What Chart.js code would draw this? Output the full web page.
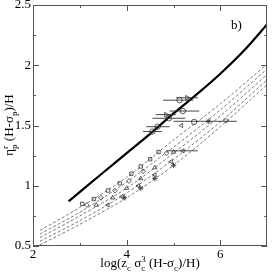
<!DOCTYPE html>
<html><head><meta charset="utf-8">
<script src="https://cdn.jsdelivr.net/npm/chart.js@4"></script>
<style>html,body{margin:0;padding:0;background:#fff}canvas{display:block}</style>
</head><body>
<canvas id="c" width="272" height="273"></canvas>
<script>
// ---- data ----
const xTickLabels = [2, 4, 6];
const xMinorTicks = [3, 5];
const yTickLabels = [0.5, 1, 1.5, 2, 2.5];
const yMinorTicks = [0.75, 1.25, 1.75, 2.25];

const solidX = [2.76, 3.5, 4.0, 4.5, 5.0, 5.5, 6.0, 6.5, 7.0];
const solidY = [0.87, 1.11, 1.27, 1.43, 1.60, 1.76, 1.93, 2.12, 2.34];

const dashX = [2.15, 3, 4, 5, 6, 7];
const dash1 = [0.63, 0.82, 1.07, 1.38, 1.68, 2.01];
const dash2 = [0.60, 0.78, 1.03, 1.32, 1.63, 1.97];
const dash3 = [0.57, 0.75, 0.98, 1.27, 1.58, 1.925];
const dash4 = [0.54, 0.71, 0.94, 1.22, 1.53, 1.88];
const dash5 = [0.51, 0.68, 0.90, 1.17, 1.49, 1.84];

const circX = [5.13, 5.20, 4.90, 4.66, 4.55, 5.44];
const circY = [1.71, 1.62, 1.56, 1.49, 1.45, 1.53];
const triRX = [5.29, 4.84];
const triRY = [1.73, 1.59];
const sqX = [3.05, 3.3, 3.6, 3.85, 4.1, 4.3, 4.5, 4.68];
const sqY = [0.85, 0.89, 0.96, 1.02, 1.10, 1.16, 1.22, 1.28];
const diaX = [3.15, 3.45, 3.75, 4.05, 4.35, 4.85, 6.12];
const diaY = [0.84, 0.90, 0.96, 1.04, 1.12, 1.27, 1.54];
const triUX = [3.35, 3.7, 4.0, 4.3, 4.6, 5.0];
const triUY = [0.84, 0.90, 0.98, 1.06, 1.15, 1.28];
const triLX = [3.6, 3.9, 4.25, 4.6, 4.95, 5.2, 5.17];
const triLY = [0.84, 0.91, 1.00, 1.09, 1.20, 1.29, 1.50];
const starX = [3.95, 4.3, 4.6, 5.0, 5.75];
const starY = [0.90, 0.98, 1.06, 1.17, 1.535];

const errY  = [1.71, 1.73, 1.62, 1.59, 1.56, 1.49, 1.45, 1.535, 1.29];
const errLo = [4.78, 5.05, 4.92, 4.62, 4.55, 4.42, 4.35, 5.00, 4.85];
const errHi = [5.42, 5.52, 5.55, 5.05, 5.25, 4.92, 4.75, 6.35, 5.52];

// ---- build ----
const pts = (xs, ys) => xs.map((x, i) => ({x, y: ys[i]}));
const SERIF = "'Liberation Serif','Times New Roman',serif";

const datasets = [];
datasets.push({type:'line', data: pts(solidX, solidY), borderColor:'#000', borderWidth:2.2, pointRadius:0, tension:0.3, order:5});
[dash1, dash2, dash3, dash4, dash5].forEach(d => datasets.push({
  type:'line', data: pts(dashX, d), borderColor:'#444', borderWidth:0.7, borderDash:[3,2],
  pointRadius:0, tension:0.3, order:6}));
errY.forEach((y, i) => datasets.push({
  type:'line', data:[{x:errLo[i], y},{x:errHi[i], y}], borderColor:'#333', borderWidth:0.9, pointRadius:0, order:4}));
const mk = (xs, ys, style, rot, r) => ({
  type:'scatter', data: pts(xs, ys), pointStyle: style, rotation: rot || 0, pointRadius: r || 2.3,
  borderColor:'#333', backgroundColor:'rgba(255,255,255,0)', pointBorderWidth:0.8, order:1});
datasets.push(mk(circX, circY, 'circle', 0, 2.7));
datasets.push(mk(triRX, triRY, 'triangle', 90, 2.7));
datasets.push(mk(sqX, sqY, 'rect', 0, 2.4));
datasets.push(mk(diaX, diaY, 'rectRot', 0, 2.4));
datasets.push(mk(triUX, triUY, 'triangle', 0, 2.4));
datasets.push(mk(triLX, triLY, 'triangle', -90, 2.4));
datasets.push(mk(starX, starY, 'star', 0, 2.8));

function drawRich(ctx, parts, size) {
  const sub = Math.round(size * 0.7);
  let w = 0;
  const items = parts.map(p => {
    ctx.font = (p.s ? sub : size) + 'px ' + SERIF;
    const pw = ctx.measureText(p.t).width;
    return {...p, pw};
  });
  for (let i = 0; i < items.length; i++) {
    const it = items[i];
    if (it.stack && i + 1 < items.length) { w += Math.max(it.pw, items[i+1].pw); i++; }
    else w += it.pw;
  }
  let x = -w / 2;
  for (let i = 0; i < items.length; i++) {
    const it = items[i];
    const dy = it.s === 'sub' ? size * 0.3 : it.s === 'sup' ? -size * 0.42 : 0;
    ctx.font = (it.s ? sub : size) + 'px ' + SERIF;
    ctx.fillText(it.t, x, dy);
    if (it.stack && i + 1 < items.length) {
      const nx = items[i+1];
      const ndy = nx.s === 'sub' ? size * 0.3 : nx.s === 'sup' ? -size * 0.42 : 0;
      ctx.font = (nx.s ? sub : size) + 'px ' + SERIF;
      ctx.fillText(nx.t, x, ndy);
      x += Math.max(it.pw, nx.pw); i++;
    } else x += it.pw;
  }
}

const framePlugin = {
  id: 'frame',
  afterDraw(chart) {
    const {ctx, chartArea: a, scales: {x: xs, y: ys}} = chart;
    ctx.save();
    ctx.strokeStyle = '#555';
    ctx.lineWidth = 1;
    ctx.strokeRect(Math.round(a.left) + 0.5, Math.round(a.top) + 0.5, Math.round(a.right - a.left) - 1, Math.round(a.bottom - a.top) - 1);
    ctx.beginPath();
    const xt = (v, L) => { const p = Math.round(xs.getPixelForValue(v)) + 0.5;
      ctx.moveTo(p, a.bottom); ctx.lineTo(p, a.bottom - L); ctx.moveTo(p, a.top); ctx.lineTo(p, a.top + L); };
    const yt = (v, L) => { const p = Math.round(ys.getPixelForValue(v)) + 0.5;
      ctx.moveTo(a.left, p); ctx.lineTo(a.left + L, p); ctx.moveTo(a.right, p); ctx.lineTo(a.right - L, p); };
    xTickLabels.forEach(v => xt(v, 6)); xMinorTicks.forEach(v => xt(v, 3));
    yTickLabels.forEach(v => yt(v, 6)); yMinorTicks.forEach(v => yt(v, 3));
    ctx.stroke();

    ctx.fillStyle = '#000';
    ctx.textBaseline = 'alphabetic';
    ctx.textAlign = 'left';
    // x title
    ctx.save();
    ctx.translate(150, 267);
    drawRich(ctx, [{t:'log(z'},{t:'c',s:'sub'},{t:' σ'},{t:'c',s:'sub',stack:true},{t:'3',s:'sup'},{t:' (H-σ'},{t:'c',s:'sub'},{t:')/H)'}], 13);
    ctx.restore();
    // y title
    ctx.save();
    ctx.translate(13, 125);
    ctx.rotate(-Math.PI / 2);
    drawRich(ctx, [{t:'η'},{t:'r',s:'sup',stack:true},{t:'p',s:'sub'},{t:' (H-σ'},{t:'p',s:'sub'},{t:')/H'}], 13);
    ctx.restore();
    // panel label
    ctx.font = '13px ' + SERIF;
    ctx.fillText('b)', 231, 29);
    ctx.restore();
  }
};

new Chart(document.getElementById('c'), {
  data: {datasets},
  options: {
    responsive: false, animation: false, devicePixelRatio: 1,
    layout: {padding: {top: 5, right: 3, left: 0, bottom: 0}},
    plugins: {legend: {display: false}, tooltip: {enabled: false}},
    scales: {
      x: {type: 'linear', min: 2, max: 7,
        afterBuildTicks: s => { s.ticks = xTickLabels.map(v => ({value: v})); },
        afterFit: s => { s.height = 27; s.paddingLeft = 0; s.paddingRight = 0; },
        ticks: {font: {family: SERIF, size: 13}, color: '#000', padding: 1, maxRotation: 0, autoSkip: false,
          callback: v => String(v)},
        grid: {display: false, drawTicks: false}, border: {display: false}},
      y: {type: 'linear', min: 0.5, max: 2.5,
        afterBuildTicks: s => { s.ticks = yTickLabels.map(v => ({value: v})); },
        afterFit: s => { s.width = 33; s.paddingTop = 0; s.paddingBottom = 0; },
        ticks: {font: {family: SERIF, size: 13}, color: '#000', padding: 2, autoSkip: false,
          callback: v => String(v)},
        grid: {display: false, drawTicks: false}, border: {display: false}}
    }
  },
  plugins: [framePlugin]
});
</script>
</body></html>
